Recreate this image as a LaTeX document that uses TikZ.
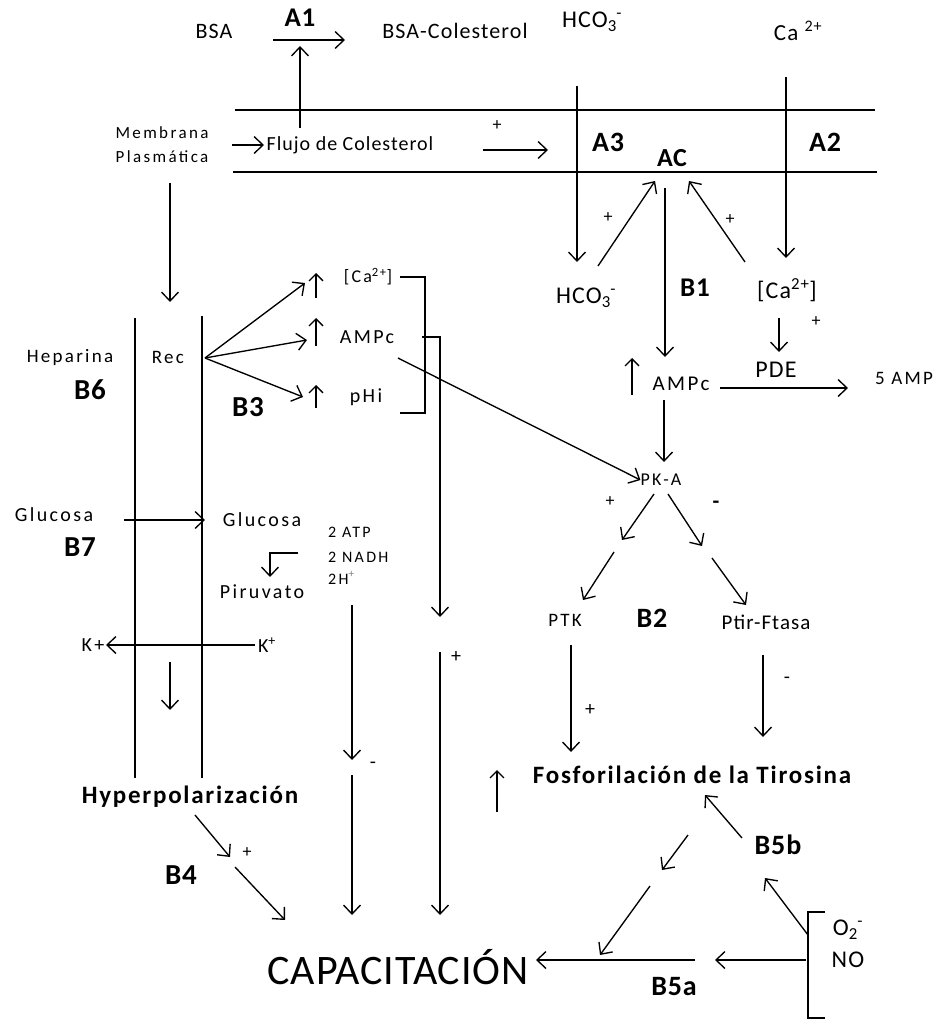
\documentclass[tikz,border=0pt]{standalone}
\usepackage{fontspec}
\setmainfont{Carlito}[LetterSpace=5]
\newfontfamily\midf{Carlito}[LetterSpace=12]
\newfontfamily\smf{Carlito}[LetterSpace=14]
\newfontfamily\capf{Carlito}[LetterSpace=2]
\newfontfamily\labf{Carlito}[LetterSpace=3]
\newfontfamily\boldf{Carlito}[LetterSpace=7]
\usetikzlibrary{arrows.meta}
\newcommand\hcoiii{HCO\textsubscript{3}\kern-0.5pt\textsuperscript{-}}
\begin{document}
\begin{tikzpicture}[x=1pt,y=-1pt,
  arr/.style={line width=1.35pt,-{Straight Barb[length=9pt,width=17pt,line width=1.35pt]}},
  up/.style={line width=1.35pt,-{Straight Barb[length=7pt,width=14pt,line width=1.35pt]}},
  ln/.style={line width=1.35pt},
  tx/.style={inner sep=0pt,font=\fontsize{#1}{24}\selectfont},
  tw/.style={inner sep=0pt,font=\midf\fontsize{#1}{24}\selectfont},
  ts/.style={inner sep=0pt,font=\smf\fontsize{#1}{24}\selectfont},
  lb/.style={inner sep=0pt,font=\labf\bfseries\fontsize{#1}{30}\selectfont},
  bt/.style={inner sep=0pt,font=\boldf\bfseries\fontsize{#1}{30}\selectfont}
]
\useasboundingbox (0,0) rectangle (939,1027);

% ---------- top ----------
\node[lb=27] (A1) at (300,18) {A1};
\node[tx=22] (bsa) at (214,31) {BSA};
\node[tx=22] (bsac) at (455,31) {BSA-Colesterol};
\node[tx=24] (hcotop) at (592,22) {\hcoiii};
\node[tx=23] (catop) at (798,31) {Ca \textsuperscript{2+}};
\coordinate (bsaA) at (273,40); \coordinate (bsaB) at (345,40);
\draw[arr] (bsaA) -- (bsaB);

\coordinate (m1l) at (235,110); \coordinate (m1r) at (875,110);
\coordinate (m2l) at (233,172); \coordinate (m2r) at (877,172);
\draw[ln] (m1l) -- (m1r);
\draw[ln] (m2l) -- (m2r);

\node[ts=17,align=center] (memb) at (162,145) {Membrana\\Plasmática};
\node[tx=20] (flujo) at (350,145) {Flujo de Colesterol};
\coordinate (mbA) at (232,145); \coordinate (mbB) at (264,145);
\draw[arr] (mbA) -- (mbB);
\coordinate (flA) at (300,128); \coordinate (flB) at (300,46);
\draw[arr] (flA) -- (flB);
\node[tx=18] (plus1) at (497,126) {+};
\coordinate (acA) at (483,150); \coordinate (acB) at (548,150);
\draw[arr] (acA) -- (acB);

\node[lb=28] (A3) at (608,142) {A3};
\node[lb=26] (AC) at (672,158) {AC};
\node[lb=28] (A2) at (825,142) {A2};

\coordinate (hA) at (577,86); \coordinate (hB) at (577,262);
\draw[arr] (hA) -- (hB);
\coordinate (cA) at (786,77); \coordinate (cB) at (786,258);
\draw[arr] (cA) -- (cB);

\node[tx=24] (hcolow) at (586,298) {\hcoiii};
\node[tx=24] (calow) at (787,290) {[Ca\textsuperscript{2+}]};
\node[lb=27] (B1) at (695,288) {B1};

\coordinate (h2A) at (598,266); \coordinate (h2B) at (655,181);
\draw[arr] (h2A) -- (h2B);
\node[tx=18] (plus2) at (608,218) {+};
\coordinate (c2A) at (745,262); \coordinate (c2B) at (689,181);
\draw[arr] (c2A) -- (c2B);
\node[tx=18] (plus3) at (730,220) {+};
\coordinate (acdA) at (665,188); \coordinate (acdB) at (665,357);
\draw[arr] (acdA) -- (acdB);

\coordinate (pdA) at (779,318); \coordinate (pdB) at (779,352);
\draw[arr] (pdA) -- (pdB);
\node[tx=18] (plus4) at (816,322) {+};
\node[tx=24] (PDE) at (776,370) {PDE};
\node[tw=21] (ampcR) at (681,384) {AMPc};
\coordinate (uA) at (632,395); \coordinate (uB) at (632,358);
\draw[up] (uA) -- (uB);
\coordinate (a5A) at (720,388); \coordinate (a5B) at (848,388);
\draw[arr] (a5A) -- (a5B);
\node[tw=19] (amp5) at (904,378) {5 AMP};
\coordinate (pkA) at (664,400); \coordinate (pkB) at (664,462);
\draw[arr] (pkA) -- (pkB);
\node[tw=18] (PKA) at (661,480) {PK-A};

% ---------- PKA branches ----------
\node[tx=18] (plus5) at (610,502) {+};
\node[lb=22] (minus1) at (716,505) {-};
\coordinate (l1A) at (654,494); \coordinate (l1B) at (622,540);
\draw[arr] (l1A) -- (l1B);
\coordinate (l2A) at (614,552); \coordinate (l2B) at (583,600);
\draw[arr] (l2A) -- (l2B);
\coordinate (r1A) at (668,494); \coordinate (r1B) at (702,546);
\draw[arr] (r1A) -- (r1B);
\coordinate (r2A) at (712,558); \coordinate (r2B) at (746,605);
\draw[arr] (r2A) -- (r2B);
\node[tw=19] (PTK) at (565,620) {PTK};
\node[lb=28] (B2) at (652,618) {B2};
\node[tx=21] (ptir) at (766,622) {Ptir-Ftasa};
\coordinate (ptkA) at (571,645); \coordinate (ptkB) at (571,752);
\draw[arr] (ptkA) -- (ptkB);
\node[tx=20] (plus6) at (590,710) {+};
\coordinate (ptA) at (763,655); \coordinate (ptB) at (763,737);
\draw[arr] (ptA) -- (ptB);
\node[tx=20] (minus2) at (787,680) {-};
\coordinate (fuA) at (497,812); \coordinate (fuB) at (497,770);
\draw[up] (fuA) -- (fuB);
\node[bt=25] (fosfo) at (692,775) {Fosforilación de la Tirosina};

% ---------- B5 ----------
\coordinate (fdA) at (688,835); \coordinate (fdB) at (662,870);
\draw[arr] (fdA) -- (fdB);
\coordinate (fd2A) at (650,886); \coordinate (fd2B) at (600,955);
\draw[arr] (fd2A) -- (fd2B);
\coordinate (b5A) at (742,838); \coordinate (b5B) at (705,795);
\draw[arr] (b5A) -- (b5B);
\node[lb=28] (B5b) at (778,845) {B5b};
\coordinate (onA) at (808,935); \coordinate (onB) at (765,878);
\draw[arr] (onA) -- (onB);
\coordinate (brT) at (825,912); \coordinate (brB) at (825,1018);
\draw[ln] (brT) -- (808,912) -- (808,1018) -- (brB);
\node[tx=24] (O2) at (848,930) {O\textsubscript{2}\kern-0.5pt\textsuperscript{-}};
\node[tx=24] (NO) at (848,960) {NO};
\coordinate (naA) at (806,960); \coordinate (naB) at (715,960);
\draw[arr] (naA) -- (naB);
\coordinate (nbA) at (695,960); \coordinate (nbB) at (536,960);
\draw[arr] (nbA) -- (nbB);
\node[lb=28] (B5a) at (674,987) {B5a};
\node[inner sep=0pt,font=\capf\fontsize{42}{44}\selectfont] (CAP) at (398,967) {CAPACITACIÓN};

% ---------- left ----------
\coordinate (mdA) at (170,183); \coordinate (mdB) at (170,302);
\draw[arr] (mdA) -- (mdB);
\coordinate (v1T) at (135,318); \coordinate (v1B) at (135,778);
\coordinate (v2T) at (202,316); \coordinate (v2B) at (202,778);
\draw[ln] (v1T) -- (v1B);
\draw[ln] (v2T) -- (v2B);
\node[tw=19] (hep) at (70,357) {Heparina};
\node[tw=19] (rec) at (168,357) {Rec};
\node[lb=29] (B6) at (90,390) {B6};
\node[lb=29] (B3) at (248,407) {B3};

\coordinate (recE) at (205,358);
\coordinate (tCa) at (305,283); \coordinate (tAm) at (307,340); \coordinate (tpH) at (303,397);
\draw[arr] (recE) -- (tCa);
\draw[arr] (recE) -- (tAm);
\draw[arr] (recE) -- (tpH);
\draw[up] (316,298) -- (316,273);
\draw[up] (316,346) -- (316,318);
\draw[up] (316,408) -- (316,385);
\node[tw=18] (caL) at (368,277) {[Ca\textsuperscript{2+}]};
\node[tw=20] (amL) at (367,337) {AMPc};
\node[tw=20] (phL) at (366,397) {pHi};
\draw[ln] (400,277) -- (425,277) -- (425,413) -- (400,413);
\coordinate (br2a) at (422,337); \coordinate (br2b) at (440,617);
\draw[arr] (br2a) -- (440,337) -- (br2b);
\coordinate (amS) at (398,358);
\draw[arr] (amS) -- (PKA.west);
\coordinate (vpA) at (440,652); \coordinate (vpB) at (440,915);
\draw[arr] (vpA) -- (vpB);
\node[tx=20] (plus7) at (456,657) {+};

\node[tw=20] (gluO) at (54,515) {Glucosa};
\coordinate (gA) at (124,520); \coordinate (gB) at (205,520);
\draw[arr] (gA) -- (gB);
\node[tw=20] (gluI) at (262,520) {Glucosa};
\node[lb=29] (B7) at (80,547) {B7};
\node[ts=16,anchor=west] (atp) at (328,532) {2 ATP};
\node[ts=16,anchor=west] (nadh) at (328,557) {2 NADH};
\node[ts=16,anchor=west] (hh) at (328,578) {2H\textsuperscript{\color{gray}+}};
\coordinate (bA) at (298,553); \coordinate (bB) at (270,577);
\draw[arr] (bA) -- (270,553) -- (bB);
\node[tw=20] (piru) at (262,592) {Piruvato};
\coordinate (hpA) at (352,605); \coordinate (hpB) at (352,760);
\draw[arr] (hpA) -- (hpB);
\node[tx=20] (minus3) at (373,765) {-};
\coordinate (hqA) at (352,775); \coordinate (hqB) at (352,915);
\draw[arr] (hqA) -- (hqB);

\node[tw=20] (kL) at (93,645) {K+};
\node[tw=20] (kR) at (267,645) {K\textsuperscript{+}};
\coordinate (kA) at (255,645); \coordinate (kB) at (106,645);
\draw[arr] (kA) -- (kB);
\coordinate (kdA) at (170,662); \coordinate (kdB) at (170,710);
\draw[arr] (kdA) -- (kdB);
\node[bt=25] (hyp) at (190,797) {Hyperpolarización};
\coordinate (hyA) at (195,815); \coordinate (hyB) at (230,857);
\draw[arr] (hyA) -- (hyB);
\node[tx=18] (plus8) at (247,853) {+};
\coordinate (hzA) at (235,867); \coordinate (hzB) at (285,920);
\draw[arr] (hzA) -- (hzB);
\node[lb=29] (B4) at (181,875) {B4};
\end{tikzpicture}
\end{document}
